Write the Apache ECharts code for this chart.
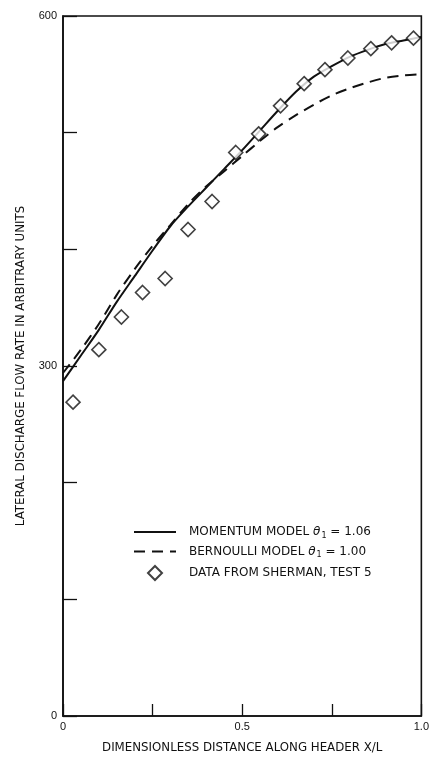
<!DOCTYPE html>
<html>
<head>
<meta charset="utf-8">
<script src="https://cdn.jsdelivr.net/npm/echarts@6/dist/echarts.min.js"></script>
<style>
  html, body { margin: 0; padding: 0; background: #fff; }
  #chart { width: 432px; height: 760px; }
</style>
</head>
<body>
<div id="chart"></div>
<script>
// Model curves sampled along the header
const modelX = [0, 0.05, 0.1, 0.15, 0.2, 0.25, 0.3, 0.35, 0.4, 0.45, 0.5,
                0.55, 0.6, 0.65, 0.7, 0.75, 0.8, 0.85, 0.9, 0.95, 1.0];
const momentumQ = [287, 309, 331, 355, 377, 399, 420, 437, 453, 469, 485,
                   502, 519, 535, 548, 557, 565, 571, 576, 579, 582];
const bernoulliQ = [294, 314, 336, 361, 383, 403, 421, 439, 454, 467, 480,
                    493, 505, 515, 524, 532, 538, 543, 547, 549, 550];

// Measured points (Sherman, test 5)
const shermanX = [0.028, 0.100, 0.163, 0.222, 0.285, 0.349, 0.416, 0.482,
                  0.546, 0.607, 0.673, 0.731, 0.795, 0.859, 0.917, 0.978];
const shermanQ = [269, 314, 342, 363, 375, 417, 441, 483,
                  499, 523, 542, 554, 564, 572, 577, 581];

const xTickLabels = { '0': '0', '0.5': '0.5', '1': '1.0' };
const yTickLabels = { '0': '0', '300': '300', '600': '600' };

const names = {
  momentum: 'MOMENTUM MODEL {t|θ}{s|1} = 1.06',
  bernoulli: 'BERNOULLI MODEL {t|θ}{s|1} = 1.00',
  data: 'DATA FROM SHERMAN, TEST 5'
};

const pairs = (xs, ys) => xs.map((x, i) => [x, ys[i]]);
const FONT = 'DejaVu Sans';
const TICK_FONT = 'Liberation Sans';
const INK = '#111';
const DIAMOND = 'path://M7,0 L14,7 L7,14 L0,7 Z';

const chart = echarts.init(document.getElementById('chart'), null, { renderer: 'canvas' });
chart.setOption({
  animation: false,
  backgroundColor: '#fff',
  grid: {
    left: 63, right: 8, top: 16, bottom: 44,
    show: true, borderColor: INK, borderWidth: 1.6, backgroundColor: 'transparent'
  },
  legend: {
    orient: 'vertical',
    left: 128, top: 521,
    itemWidth: 42, itemHeight: 14, itemGap: 6,
    symbolKeepAspect: true,
    data: [
      { name: names.momentum },
      { name: names.bernoulli },
      { name: names.data, icon: DIAMOND }
    ],
    textStyle: {
      fontFamily: FONT, fontSize: 12, color: INK, padding: [0, 0, 0, 8],
      rich: {
        t: { fontFamily: FONT, fontSize: 12, fontStyle: 'italic', color: INK },
        s: { fontFamily: FONT, fontSize: 8, color: INK, padding: [7, 0, 0, 1] }
      }
    }
  },
  xAxis: {
    type: 'value', min: 0, max: 1, interval: 0.25,
    name: 'DIMENSIONLESS DISTANCE ALONG HEADER X/L',
    nameLocation: 'middle', nameGap: 26,
    nameTextStyle: { fontFamily: FONT, fontSize: 11.8, color: INK },
    axisLine: { lineStyle: { color: INK, width: 1.6 } },
    axisTick: { show: true, inside: true, length: 12, lineStyle: { color: INK, width: 1.3 } },
    axisLabel: {
      fontFamily: TICK_FONT, fontSize: 11, color: INK, margin: 5,
      formatter: v => xTickLabels[String(v)] || ''
    },
    splitLine: { show: false }
  },
  yAxis: {
    type: 'value', min: 0, max: 600, interval: 100,
    name: 'LATERAL DISCHARGE FLOW RATE IN ARBITRARY UNITS',
    nameLocation: 'middle', nameGap: 36,
    nameTextStyle: { fontFamily: FONT, fontSize: 11.8, color: INK },
    axisLine: { lineStyle: { color: INK, width: 1.6 } },
    axisTick: { show: true, inside: true, length: 14, lineStyle: { color: INK, width: 1.3 } },
    axisLabel: {
      fontFamily: TICK_FONT, fontSize: 11, color: INK, margin: 6,
      formatter: v => yTickLabels[String(v)] || ''
    },
    splitLine: { show: false }
  },
  series: [
    {
      name: names.momentum,
      type: 'line', smooth: 0.3, symbol: 'none',
      data: pairs(modelX, momentumQ),
      lineStyle: { color: INK, width: 2, type: 'solid' },
      itemStyle: { color: 'transparent', borderWidth: 0 },
      z: 2
    },
    {
      name: names.bernoulli,
      type: 'line', smooth: 0.3, symbol: 'none',
      data: pairs(modelX, bernoulliQ),
      lineStyle: { color: INK, width: 2, type: [11, 7] },
      itemStyle: { color: 'transparent', borderWidth: 0 },
      z: 2
    },
    {
      name: names.data,
      type: 'scatter', symbol: 'diamond', symbolSize: 14,
      data: pairs(shermanX, shermanQ),
      itemStyle: { color: '#fff', borderColor: INK, borderWidth: 1.6 },
      z: 3
    }
  ]
});
</script>
</body>
</html>
